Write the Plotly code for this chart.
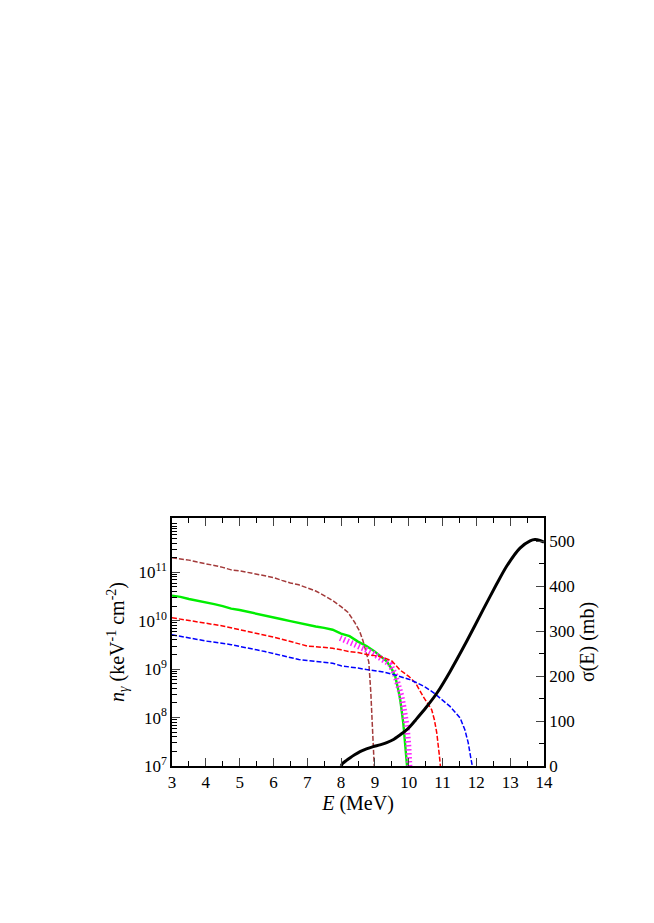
import plotly.graph_objects as go

# photon spectra n_gamma (keV^-1 cm^-2) vs E (MeV)
e_brown = [3.0, 3.25, 3.5, 3.75, 4.0, 4.25, 4.5, 4.75, 5.0, 5.25, 5.5, 5.75, 6.0, 6.25, 6.5, 6.75,
           7.0, 7.25, 7.5, 7.75, 8.0, 8.2, 8.4, 8.55, 8.65, 8.75, 8.82, 8.88, 8.93, 8.97, 9.0]
n_brown = [2.0e11, 1.9e11, 1.78e11, 1.62e11, 1.51e11, 1.38e11, 1.26e11, 1.12e11, 1.07e11, 9.8e10,
           9.1e10, 8.3e10, 7.8e10, 6.8e10, 6.0e10, 5.5e10, 4.8e10, 4.1e10, 3.3e10, 2.6e10, 1.95e10,
           1.5e10, 9.3e9, 6.0e9, 3.8e9, 2.2e9, 1.4e9, 3.2e8, 6.3e7, 1.0e7, 5e6]

e_green = [3.0, 3.25, 3.5, 3.75, 4.0, 4.25, 4.5, 4.75, 5.0, 5.25, 5.5, 5.75, 6.0, 6.25, 6.5, 6.75,
           7.0, 7.25, 7.5, 7.75, 8.0, 8.25, 8.5, 8.75, 9.0, 9.2, 9.35, 9.5, 9.6, 9.7, 9.75, 9.84,
           9.91, 9.95, 9.97]
n_green = [3.3e10, 3.1e10, 2.8e10, 2.6e10, 2.4e10, 2.2e10, 2.0e10, 1.78e10, 1.66e10, 1.51e10,
           1.41e10, 1.26e10, 1.17e10, 1.07e10, 9.8e9, 8.9e9, 8.1e9, 7.6e9, 7.1e9, 6.5e9, 5.4e9,
           4.8e9, 3.7e9, 3.0e9, 2.3e9, 1.78e9, 1.45e9, 1.0e9, 7.1e8, 3.5e8, 2.3e8, 7.6e7,
           2.5e7, 1.0e7, 5e6]

e_magenta = [7.97, 8.2, 8.46, 8.7, 8.95, 9.2, 9.45, 9.6, 9.69, 9.78, 9.84, 9.9, 9.94, 9.99, 10.02, 10.04]
n_magenta = [4.4e9, 3.8e9, 3.2e9, 2.6e9, 2.1e9, 1.66e9, 1.26e9, 7.6e8, 5.1e8, 2.8e8, 1.7e8,
             9.5e7, 6.5e7, 2.5e7, 1.0e7, 5e6]

e_red = [3.0, 3.25, 3.5, 3.75, 4.0, 4.25, 4.5, 4.75, 5.0, 5.25, 5.5, 5.75, 6.0, 6.25, 6.5, 6.75,
         7.0, 7.25, 7.5, 7.75, 8.0, 8.25, 8.5, 8.75, 9.0, 9.25, 9.5, 9.75, 10.0, 10.2, 10.43,
         10.6, 10.68, 10.76, 10.83, 10.9, 10.95, 10.98]
n_red = [1.15e10, 1.07e10, 1.0e10, 9.5e9, 8.9e9, 8.3e9, 7.8e9, 7.1e9, 6.6e9, 6.0e9, 5.5e9,
         5.0e9, 4.6e9, 4.1e9, 3.7e9, 3.3e9, 3.0e9, 2.9e9, 2.8e9, 2.7e9, 2.5e9, 2.3e9, 2.2e9,
         2.0e9, 1.9e9, 1.74e9, 1.48e9, 9.5e8, 7.1e8, 5.2e8, 2.7e8, 1.78e8, 1.45e8, 8.9e7,
         4.8e7, 1.8e7, 1.0e7, 5e6]

e_blue = [3.0, 3.25, 3.5, 3.75, 4.0, 4.25, 4.5, 4.75, 5.0, 5.25, 5.5, 5.75, 6.0, 6.25, 6.5, 6.75,
          7.0, 7.25, 7.5, 7.75, 8.0, 8.25, 8.5, 8.75, 9.0, 9.25, 9.5, 9.75, 10.0, 10.25, 10.5,
          10.75, 11.0, 11.22, 11.4, 11.52, 11.66, 11.76, 11.83, 11.88, 11.9]
n_blue = [5.1e9, 4.8e9, 4.4e9, 4.1e9, 3.8e9, 3.6e9, 3.4e9, 3.2e9, 2.95e9, 2.75e9, 2.5e9, 2.3e9,
          2.1e9, 1.9e9, 1.7e9, 1.58e9, 1.51e9, 1.45e9, 1.38e9, 1.32e9, 1.17e9, 1.12e9, 1.05e9,
          9.8e8, 9.3e8, 8.7e8, 7.9e8, 7.1e8, 6.2e8, 5.2e8, 4.2e8, 3.2e8, 2.3e8, 1.7e8, 1.23e8,
          9.8e7, 5.6e7, 3.0e7, 1.55e7, 1.0e7, 5e6]

# cross section sigma(E) in mb
e_sigma = [8.0, 8.05, 8.15, 8.26, 8.4, 8.56, 8.75, 8.95, 9.15, 9.35, 9.55, 9.74, 9.9, 10.04, 10.2,
           10.5, 10.84, 11.22, 11.71, 12.2, 12.6, 12.89, 13.29, 13.59, 13.73, 13.88, 14.0]
sigma = [0, 6, 12, 18, 25, 32, 38, 43, 47, 52, 59, 69, 78, 88, 102, 129, 163, 210, 277, 348,
         405, 444, 485, 501, 504, 502, 498]

font = "Liberation Serif"

fig = go.Figure()
fig.add_trace(go.Scatter(x=e_brown, y=n_brown, mode='lines',
                         line=dict(color='#a33a3a', width=1.5, dash='5px,2px')))
fig.add_trace(go.Scatter(x=e_green, y=n_green, mode='lines',
                         line=dict(color='#00ee00', width=2.4)))
fig.add_trace(go.Scatter(x=e_magenta, y=n_magenta, mode='lines',
                         line=dict(color='#ff22ff', width=6, dash='1.5px,2.5px')))
fig.add_trace(go.Scatter(x=e_red, y=n_red, mode='lines',
                         line=dict(color='#ff0000', width=1.5, dash='5px,2px')))
fig.add_trace(go.Scatter(x=e_blue, y=n_blue, mode='lines',
                         line=dict(color='#0000ff', width=1.5, dash='5px,2px')))
fig.add_trace(go.Scatter(x=e_sigma, y=sigma, mode='lines', yaxis='y2',
                         line=dict(color='black', width=3, shape='spline', smoothing=0.6)))

dec = [1e7, 1e8, 1e9, 1e10, 1e11]
dec_txt = ['10<sup>7</sup>', '10<sup>8</sup>', '10<sup>9</sup>', '10<sup>10</sup>', '10<sup>11</sup>']

# page body has an 8px margin, so the figure is a bit smaller than the window
fig.update_layout(
    width=646, height=915,
    margin=dict(l=164, r=110, t=510, b=157),
    paper_bgcolor='white', plot_bgcolor='white',
    showlegend=False,
    font=dict(family=font, size=17, color='black'),
    xaxis=dict(range=[3, 14], dtick=1, tick0=3, ticks='inside', ticklen=8, tickwidth=1,
               mirror='ticks', showline=True, linecolor='black', linewidth=1.5, showgrid=False,
               zeroline=False,
               minor=dict(dtick=0.5, ticks='inside', ticklen=5, tickcolor='black', showgrid=False),
               title=dict(text='<i>E</i> (MeV)', standoff=0)),
    yaxis=dict(type='log', range=[7, 12.12], tickvals=dec, ticktext=dec_txt,
               ticks='inside', ticklen=8, showline=True, linecolor='black', linewidth=1.5,
               showgrid=False, zeroline=False,
               minor=dict(dtick='D1', ticks='inside', ticklen=5, tickcolor='black', showgrid=False),
               title=dict(text='<i>n</i><sub><i>γ</i></sub> (keV<sup>-1</sup> cm<sup>-2</sup>)', standoff=8)),
    yaxis2=dict(overlaying='y', side='right', range=[0, 552], dtick=100, ticks='inside',
                ticklen=8, showline=True, linecolor='black', linewidth=1.5, showgrid=False,
                zeroline=False,
                minor=dict(dtick=50, ticks='inside', ticklen=5, tickcolor='black', showgrid=False),
                title=dict(text='σ(E) (mb)', standoff=6)),
)

fig.write_html("out.html")
